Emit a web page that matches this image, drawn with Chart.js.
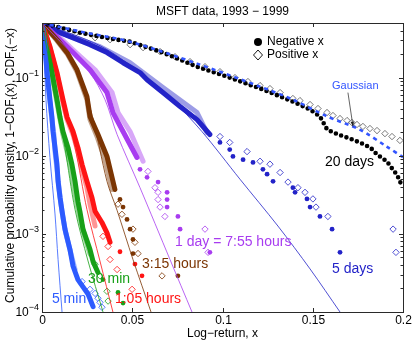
<!DOCTYPE html>
<html>
<head>
<meta charset="utf-8">
<script src="https://cdn.jsdelivr.net/npm/chart.js@4.4.0/dist/chart.umd.min.js"></script>
<style>
  html, body { margin: 0; padding: 0; background: #fff; }
</style>
</head>
<body>
<canvas id="grafica" width="414" height="341"></canvas>
<script>
// ---- datos (x = log-return, y = 1-CDF) ----
const xTicks = [0, 0.05, 0.1, 0.15, 0.2];
const xTickLabels = ['0', '0.05', '0.1', '0.15', '0.2'];
const yTicks = [1e-4, 1e-3, 1e-2, 1e-1];
const yTickExp = ['\u22124', '\u22123', '\u22122', '\u22121'];

// 5 min
const m5NegX = [0, .0017, .0028, .0044, .0055, .0061, .0072, .0083, .0089, .0100, .0111, .0127, .0155, .0172, .0199, .0227, .0255, .0283];
const m5NegY = [.5, .249, .116, .0523, .031, .0204, .0127, .0077, .0047, .0029, .00195, .00115, 6.3e-4, 3.85e-4, 2.6e-4, 2.1e-4, 1.7e-4, 1.17e-4];
const m5PosX = [0, .0017, .0028, .0044, .0055, .0066, .0072, .0083, .0094, .0105, .0116, .0133, .0161, .0183];
const m5PosY = [.5, .242, .109, .048, .029, .0187, .0113, .0067, .0039, .0024, .00162, 9.9e-4, 5.5e-4, 3.5e-4];
const m5PosTailX = [.0222, .0266, .0294, .0310, .0321, .0332];
const m5PosTailY = [2.45e-4, 1.95e-4, 1.73e-4, 1.5e-4, 1.33e-4, 1.15e-4];
const m5FitX = [0, .0011, .0022, .0044, .0072, .0089, .0111];
const m5FitY = [.5, .228, .0523, .0095, .0018, 4.7e-4, 1e-4];

// 30 min
const m30NegX = [0, .0028, .0055, .0083, .0100, .0116, .0144, .0166, .0183, .0199, .0210, .0227, .0266, .0283, .0310];
const m30NegY = [.5, .249, .116, .0523, .031, .0204, .0127, .0077, .0047, .0026, .00194, .00115, 6.3e-4, 4.4e-4, 3.2e-4];
const m30NegTailX = [.0338, .0421, .0449];
const m30NegTailY = [2.6e-4, 1.78e-4, 1.3e-4];
const m30PosX = [0, .0028, .0055, .0083, .0100, .0116, .0139, .0161, .0177, .0194, .0210, .0233, .0266];
const m30PosY = [.5, .242, .109, .048, .029, .0187, .0113, .0067, .0039, .0024, .00162, 9.9e-4, 5.5e-4];
const m30PosTailX = [.0294, .0321, .0360, .0366];
const m30PosTailY = [4.1e-4, 2.9e-4, 1.84e-4, 1.38e-4];
const m30FitX = [0, .0028, .0055, .0089, .0127, .0183, .0255, .0338];
const m30FitY = [.5, .228, .1, .039, .0127, .00205, 4.5e-4, 1e-4];

// 1:05 hours
const h1NegX = [0, .0044, .0083, .0116, .0139, .0172, .0199, .0222, .0249, .0277, .0294, .0332, .0360, .0377];
const h1NegY = [.5, .249, .116, .0523, .031, .0204, .0127, .0077, .0047, .0029, .00195, .0014, .00103, 7.8e-4];
const h1NegTailX = [.0432, .0515, .0554];
const h1NegTailY = [5.9e-4, 4.1e-4, 2.9e-4];
const h1PosX = [0, .0044, .0083, .0116, .0139, .0172, .0199, .0222, .0249, .0266, .0294];
const h1PosY = [.5, .242, .109, .048, .029, .0187, .0113, .0067, .0039, .0024, .00126];
const h1PosTailX = [.0338, .0366, .0377, .0416, .0499];
const h1PosTailY = [9.3e-4, 6.9e-4, 4.7e-4, 3.5e-4, 1.95e-4];
const h1FitX = [0, .0044, .0083, .0127, .0183, .0249, .0321, .0393];
const h1FitY = [.5, .228, .1, .039, .0127, .00205, 4.5e-4, 1e-4];

// 3:15 hours
const h3NegX = [0, .0083, .0139, .0194, .0249, .0266, .0310, .0360, .0404];
const h3NegY = [.5, .306, .209, .126, .057, .0318, .0187, .0098, .0037];
const h3NegTailX = [.0432, .0449, .0471, .0488, .0504, .0504, .0753];
const h3NegTailY = [.00276, .0022, .00153, .00115, 8.5e-4, 5.6e-4, 2.9e-4];
const h3PosX = [0, .0083, .0139, .0194, .0249, .0266, .0305, .0349, .0388];
const h3PosY = [.5, .297, .203, .119, .0523, .029, .0176, .0089, .0037];
const h3PosTailX = [.0421, .0443, .0504, .0515, .0532, .0665];
const h3PosTailY = [.0024, .00178, .00115, 7.8e-4, 5.6e-4, 2.9e-4];
const h3FitX = [0, .0139, .0210, .0277, .0360, .0416, .0504, .0604];
const h3FitY = [.5, .197, .094, .0337, .0047, .0020, 4.7e-4, 1e-4];

// 1 day
const d1NegX = [0, .0100, .0172, .0266, .0360, .0393, .0449, .0526];
const d1NegY = [.5, .306, .209, .126, .0644, .0357, .0204, .0095];
const d1NegTailX = [.0543, .0582, .0643, .0693, .0693, .0693, .0753, .0765, .0930];
const d1NegTailY = [.0067, .0053, .0046, .0034, .00275, .0022, .00167, .00115, 5.8e-4];
const d1PosX = [0, .0111, .0188, .0294, .0388, .0421, .0488, .0560];
const d1PosY = [.5, .306, .209, .126, .0644, .0357, .0204, .0085];
const d1PosTailX = [.0587, .0626, .0643, .0643, .0654, .0681, .0903, .0920];
const d1PosTailY = [.0063, .0039, .0034, .00275, .0022, .00167, .00115, 5.8e-4];
const d1FitX = [0, .0172, .0266, .0349, .0416, .0543, .0709, .0831];
const d1FitY = [.5, .197, .116, .0523, .0187, .0039, 4.7e-4, 1e-4];

// 5 days
const d5NegX = [0, .0100, .0266, .0360, .0449, .0543, .0582, .0670, .0765, .0859, .0930];
const d5NegY = [.5, .376, .264, .209, .155, .116, .094, .0644, .0427, .029, .0187];
const d5NegTailX = [.0986, .1040, .1058, .1114, .1169, .1224, .1247, .1280, .1390, .1402, .1468, .1485, .1540, .1607, .1651];
const d5NegTailY = [.0148, .012, .0098, .0089, .0082, .0067, .0058, .0047, .0039, .0034, .0028, .0022, .00167, .00115, 5.8e-4];
const d5PosX = [0, .0100, .0321, .0488, .0670, .0859, .0914];
const d5PosY = [.5, .376, .249, .155, .0745, .0357, .0198];
const d5PosTailX = [.0986, .1040, .1136, .1208, .1263, .1319, .1363, .1418, .1457, .1501, .1518, .1584, .1945, .1961];
const d5PosTailY = [.0176, .0148, .0113, .0085, .0078, .0061, .0046, .0039, .0034, .0028, .0022, .00167, .00115, 5.8e-4];
const d5FitX = [0, .0321, .0543, .0709, .0886, .1097, .1307, .1485, .1651];
const d5FitY = [.5, .256, .116, .0555, .0204, .005, .00126, 3.56e-4, 1e-4];

// 20 days
const d20NegX = [0, .0210, .0377, .0488, .0670, .0859, .1040, .1225, .1390, .1485, .1540, .1580, .1640, .1690, .1760, .1820, .1856, .1910, .1945, .1967, .1983, .1994];
const d20NegY = [.5, .376, .316, .288, .209, .138, .1, .0703, .0493, .039, .0318, .0216, .0187, .0171, .0148, .0127, .0104, .0085, .0066, .0057, .0047, .0041];
const d20PosX = [.0183, .0294, .0377, .0488, .056, .0654, .0737, .082, .0903, .0986, .1069, .1141, .1208, .1263, .1319, .139, .1429, .1485, .1529, .1579, .1612, .1651, .169, .1717, .1745, .1778, .1817, .1856, .19, .1939, .1983];
const d20PosY = [.365, .324, .306, .264, .242, .215, .185, .16, .138, .119, .1, .089, .079, .0723, .0643, .054, .0508, .0452, .0402, .0357, .0327, .0299, .0282, .0266, .0251, .0237, .0223, .021, .0192, .0176, .0157];

// Gaussiana
const gaussX = [0, .0210, .0488, .0859, .1208, .1390, .1580, .1760, .1910, .2000];
const gaussY = [.5, .39, .288, .151, .0767, .0523, .0318, .0216, .0131, .0096];

// ---- estilos ----
const FONT = '"Liberation Sans", Arial, Helvetica, sans-serif';
const C = {
    m5: '#2d5bff', m30: '#18a018', h1: '#ff1414', h3: '#7b3503',
    d1: '#a83cf0', d5: '#2323c8', d20: '#000000', gauss: '#3355ff'
};

const notas = [
    { text: '5 min', x: .0055, y: 1.46e-4, color: C.m5 },
    { text: '30 min', x: .0255, y: 2.63e-4, color: C.m30 },
    { text: '1:05 hours', x: .0404, y: 1.46e-4, color: C.h1 },
    { text: '3:15 hours', x: .0554, y: 4.07e-4, color: C.h3 },
    { text: '1 day = 7:55 hours', x: .0737, y: 7.8e-4, color: C.d1 },
    { text: '5 days', x: .1607, y: 3.5e-4, color: C.d5 },
    { text: '20 days', x: .1568, y: 8.2e-3, color: '#000' }
];

function pts(xs, ys) {
    return xs.map((v, i) => ({ x: v, y: ys[i] }));
}
function alpha(hex, a) {
    const n = parseInt(hex.slice(1), 16);
    return `rgba(${(n >> 16) & 255}, ${(n >> 8) & 255}, ${n & 255}, ${a})`;
}
function banda(xs, ys, color, w, order) {
    return { data: pts(xs, ys), showLine: true, pointRadius: 0, borderColor: color,
        borderWidth: w, borderJoinStyle: 'round', borderCapStyle: 'round', order: order };
}
function puntos(xs, ys, color, order) {
    return { data: pts(xs, ys), showLine: false, pointRadius: 2.4, pointStyle: 'circle',
        backgroundColor: color, borderWidth: 0, order: order };
}
function rombos(xs, ys, color, order) {
    return { data: pts(xs, ys), showLine: false, pointRadius: 3.2, pointStyle: 'rectRot',
        backgroundColor: 'rgba(255,255,255,0.9)', borderColor: color, pointBorderWidth: 0.8, order: order };
}
function ajuste(xs, ys, color) {
    return { data: pts(xs, ys), showLine: true, pointRadius: 0, borderColor: color,
        borderWidth: 0.8, tension: 0.3, order: 0 };
}

const datasets = [
    ajuste(m5FitX, m5FitY, C.m5), ajuste(m30FitX, m30FitY, C.m30), ajuste(h1FitX, h1FitY, C.h1),
    ajuste(h3FitX, h3FitY, C.h3), ajuste(d1FitX, d1FitY, C.d1), ajuste(d5FitX, d5FitY, C.d5),
    { data: pts(gaussX, gaussY), showLine: true, pointRadius: 0, borderColor: C.gauss,
      borderWidth: 2.6, borderDash: [4, 4], tension: 0.3, order: 0 },

    banda(m5NegX, m5NegY, C.m5, 5, 2), banda(m30NegX, m30NegY, C.m30, 5, 2),
    banda(h1NegX, h1NegY, C.h1, 5, 2), banda(h3NegX, h3NegY, C.h3, 5, 2),
    banda(d1NegX, d1NegY, C.d1, 5, 2), banda(d5NegX, d5NegY, C.d5, 5, 2),
    puntos(m30NegTailX, m30NegTailY, C.m30, 2), puntos(h1NegTailX, h1NegTailY, C.h1, 2),
    puntos(h3NegTailX, h3NegTailY, C.h3, 2), puntos(d1NegTailX, d1NegTailY, C.d1, 2),
    puntos(d5NegTailX, d5NegTailY, C.d5, 2),
    { data: pts(d20NegX, d20NegY), showLine: true, pointRadius: 0, borderColor: '#000',
      borderWidth: 4.6, borderDash: [0, 5.6], borderCapStyle: 'round', order: 1 },

    banda(m5PosX, m5PosY, alpha(C.m5, 0.45), 5, 3), banda(m30PosX, m30PosY, alpha(C.m30, 0.45), 5, 3),
    banda(h1PosX, h1PosY, alpha(C.h1, 0.45), 5, 3), banda(h3PosX, h3PosY, alpha(C.h3, 0.45), 5, 3),
    banda(d1PosX, d1PosY, alpha(C.d1, 0.45), 5, 3), banda(d5PosX, d5PosY, alpha(C.d5, 0.45), 5, 3),
    rombos(m5PosTailX, m5PosTailY, C.m5, 3), rombos(m30PosTailX, m30PosTailY, C.m30, 3),
    rombos(h1PosTailX, h1PosTailY, C.h1, 3), rombos(h3PosTailX, h3PosTailY, C.h3, 3),
    rombos(d1PosTailX, d1PosTailY, C.d1, 3), rombos(d5PosTailX, d5PosTailY, C.d5, 3),
    rombos(d20PosX, d20PosY, '#555', 3)
];

// ---- ejes, textos y leyenda al estilo MATLAB ----
function textoSegmentos(ctx, segs, x, y, align) {
    let total = 0;
    segs.forEach(s => { ctx.font = (s.sub || s.sup ? '9px ' : '12px ') + FONT; total += ctx.measureText(s.t).width; });
    let cx = align === 'right' ? x - total : (align === 'center' ? x - total / 2 : x);
    ctx.textAlign = 'left';
    ctx.textBaseline = 'middle';
    segs.forEach(s => {
        ctx.font = (s.sub || s.sup ? '9px ' : '12px ') + FONT;
        const dy = s.sub ? 4 : (s.sup ? -5 : 0);
        ctx.fillText(s.t, cx, y + dy);
        cx += ctx.measureText(s.t).width;
    });
}

const decorado = {
    id: 'decorado',
    afterDraw(chart) {
        const { ctx, chartArea: a, scales: { x, y } } = chart;
        ctx.save();
        ctx.strokeStyle = '#2a2a2a';
        ctx.lineWidth = 1;
        ctx.strokeRect(Math.round(a.left) + 0.5, Math.round(a.top) + 0.5,
            Math.round(a.right - a.left), Math.round(a.bottom - a.top));

        const linea = (x1, y1, x2, y2) => { ctx.beginPath(); ctx.moveTo(x1, y1); ctx.lineTo(x2, y2); ctx.stroke(); };

        ctx.fillStyle = '#000';
        ctx.font = '12px ' + FONT;
        xTicks.forEach((v, i) => {
            const px = Math.round(x.getPixelForValue(v)) + 0.5;
            linea(px, a.bottom, px, a.bottom - 4);
            linea(px, a.top, px, a.top + 4);
            ctx.textAlign = 'center';
            ctx.textBaseline = 'top';
            ctx.fillText(xTickLabels[i], px, a.bottom + 3);
        });

        yTicks.forEach((v, i) => {
            const py = Math.round(y.getPixelForValue(v)) + 0.5;
            linea(a.left, py, a.left + 4, py);
            linea(a.right, py, a.right - 4, py);
            textoSegmentos(ctx, [{ t: '10' }, { t: yTickExp[i], sup: true }], a.left - 3, py, 'right');
            for (let k = 2; k <= 9; k++) {
                const m = v * k;
                if (m > y.max) break;
                const pm = Math.round(y.getPixelForValue(m)) + 0.5;
                linea(a.left, pm, a.left + 2.5, pm);
                linea(a.right, pm, a.right - 2.5, pm);
            }
        });

        // titulos
        ctx.fillStyle = '#000';
        textoSegmentos(ctx, [{ t: 'MSFT data, 1993 \u2212 1999' }], (a.left + a.right) / 2, 12, 'center');
        textoSegmentos(ctx, [{ t: 'Log\u2212return, x' }], (a.left + a.right) / 2, 334, 'center');
        ctx.save();
        ctx.translate(11, (a.top + a.bottom) / 2 - 2);
        ctx.rotate(-Math.PI / 2);
        textoSegmentos(ctx, [
            { t: 'Cumulative probability density, 1\u2212CDF' }, { t: 't', sub: true },
            { t: '(x), CDF' }, { t: 't', sub: true }, { t: '(\u2212x)' }
        ], 0, 0, 'center');
        ctx.restore();

        // leyenda
        const lx = 258, ly1 = 42, ly2 = 55;
        ctx.fillStyle = '#000';
        ctx.beginPath(); ctx.arc(lx, ly1, 4, 0, Math.PI * 2); ctx.fill();
        ctx.strokeStyle = '#000'; ctx.lineWidth = 0.9;
        ctx.beginPath(); ctx.moveTo(lx, ly2 - 5); ctx.lineTo(lx + 4.5, ly2); ctx.lineTo(lx, ly2 + 5); ctx.lineTo(lx - 4.5, ly2); ctx.closePath(); ctx.stroke();
        textoSegmentos(ctx, [{ t: 'Negative x' }], lx + 9, ly1, 'left');
        textoSegmentos(ctx, [{ t: 'Positive x' }], lx + 9, ly2, 'left');

        // anotaciones de cada escala temporal
        notas.forEach(n => {
            ctx.fillStyle = n.color;
            ctx.font = '14px ' + FONT;
            ctx.textAlign = 'left';
            ctx.textBaseline = 'middle';
            ctx.fillText(n.text, x.getPixelForValue(n.x), y.getPixelForValue(n.y));
        });

        // Gaussian + flecha
        ctx.fillStyle = C.gauss;
        ctx.font = '11px ' + FONT;
        ctx.fillText('Gaussian', x.getPixelForValue(.1607), y.getPixelForValue(.079));
        const x1 = x.getPixelForValue(.1695), y1 = y.getPixelForValue(.0643);
        const x2 = x.getPixelForValue(.1723), y2 = y.getPixelForValue(.0237);
        ctx.strokeStyle = '#222'; ctx.lineWidth = 0.7;
        linea(x1, y1, x2, y2);
        const ang = Math.atan2(y2 - y1, x2 - x1);
        ctx.fillStyle = '#222';
        ctx.beginPath();
        ctx.moveTo(x2, y2);
        ctx.lineTo(x2 - 5 * Math.cos(ang - 0.35), y2 - 5 * Math.sin(ang - 0.35));
        ctx.lineTo(x2 - 5 * Math.cos(ang + 0.35), y2 - 5 * Math.sin(ang + 0.35));
        ctx.closePath(); ctx.fill();
        ctx.restore();
    }
};

new Chart(document.getElementById('grafica').getContext('2d'), {
    type: 'scatter',
    data: { datasets: datasets },
    options: {
        responsive: false,
        animation: false,
        layout: { padding: { left: 42, top: 23, right: 11, bottom: 29 } },
        plugins: { legend: { display: false }, tooltip: { enabled: false } },
        scales: {
            x: { type: 'linear', min: 0, max: 0.2, display: false },
            y: { type: 'logarithmic', min: 1e-4, max: 0.5, display: false }
        }
    },
    plugins: [decorado]
});
</script>
</body>
</html>
